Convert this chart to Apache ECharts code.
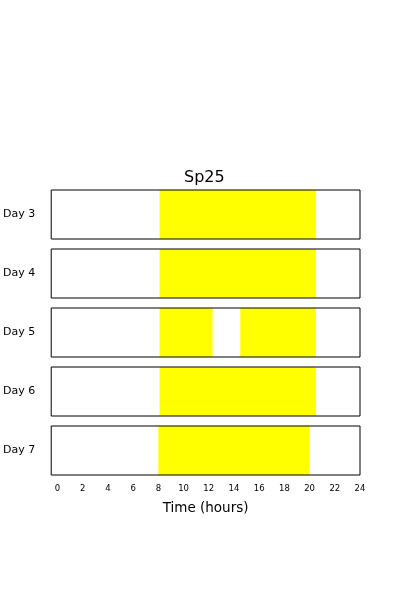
<!DOCTYPE html>
<html>
<head>
<meta charset="utf-8">
<script src="https://cdn.jsdelivr.net/npm/echarts@6/dist/echarts.min.js"></script>
<style>
  html, body { margin: 0; padding: 0; background: #fff; }
  #mychart { width: 400px; height: 600px; }
</style>
</head>
<body>
<div id="mychart"></div>
<script>
// days shown, one panel each
var days = ['Day 3', 'Day 4', 'Day 5', 'Day 6', 'Day 7'];
// lit periods per day, [start, end] in hours
var day3 = [[8.1, 20.5]];
var day4 = [[8.1, 20.5]];
var day5 = [[8.1, 12.3], [14.5, 20.5]];
var day6 = [[8.1, 20.5]];
var day7 = [[8.0, 20.0]];
var periods = [day3, day4, day5, day6, day7];
var hourTicks = [0, 2, 4, 6, 8, 10, 12, 14, 16, 18, 20, 22, 24];

var font = 'DejaVu Sans';
var mychart = echarts.init(document.getElementById('mychart'));

var grids = [], xAxes = [], yAxes = [], series = [];
days.forEach(function (d, i) {
  var last = i === days.length - 1;
  grids.push({
    left: 50, width: 310, top: 190 + i * 59, height: 49, z: 5,
    show: true, borderColor: '#000', borderWidth: 1, backgroundColor: 'transparent'
  });
  xAxes.push({
    gridIndex: i, type: 'value', min: -0.5, max: 24,
    axisLine: { show: false }, axisTick: { show: false }, splitLine: { show: false },
    axisLabel: {
      show: last, customValues: hourTicks, margin: 9,
      fontFamily: font, fontSize: 8.5, color: '#000'
    },
    name: last ? 'Time (hours)' : '',
    nameLocation: 'middle', nameGap: 26,
    nameTextStyle: { fontFamily: font, fontSize: 13.5, color: '#000' }
  });
  yAxes.push({
    gridIndex: i, type: 'category', data: [d],
    axisLine: { show: false }, axisTick: { show: false },
    axisLabel: { margin: 16, fontFamily: font, fontSize: 11, color: '#000' }
  });
  series.push({
    type: 'custom',
    xAxisIndex: i, yAxisIndex: i, z: 1,
    data: periods[i].map(function (p) { return [p[0], p[1], 0]; }),
    renderItem: function (params, api) {
      var a = api.coord([api.value(0), api.value(2)]);
      var b = api.coord([api.value(1), api.value(2)]);
      var h = api.size([0, 1])[1];
      return {
        type: 'rect',
        shape: { x: a[0], y: a[1] - h / 2, width: b[0] - a[0], height: h },
        style: { fill: '#ffff00' }
      };
    },
    silent: true
  });
});

var option = {
  backgroundColor: '#fff',
  animation: false,
  title: {
    text: 'Sp25', left: 179, top: 165,
    textStyle: { fontFamily: font, fontSize: 16, fontWeight: 'normal', color: '#000' }
  },
  grid: grids,
  xAxis: xAxes,
  yAxis: yAxes,
  series: series
};
mychart.setOption(option);
</script>
</body>
</html>
